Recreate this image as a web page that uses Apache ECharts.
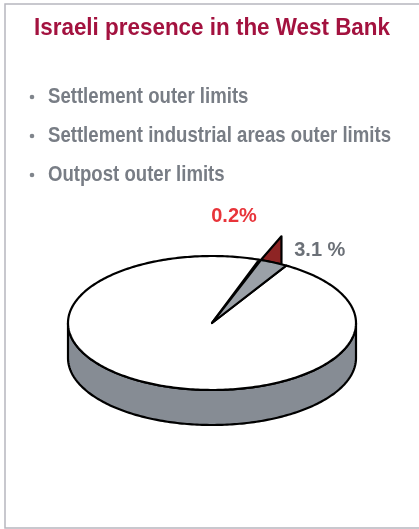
<!DOCTYPE html>
<html>
<head>
<meta charset="utf-8">
<script src="https://cdn.jsdelivr.net/npm/echarts@6/dist/echarts.min.js"></script>
<style>
html,body{margin:0;padding:0;background:#fff;}
#chart{width:419px;height:529px;}
</style>
</head>
<body>
<div id="chart"></div>
<script>
// ---- data ----
var titleText = 'Israeli presence in the West Bank';
var bulletItems = ['Settlement outer limits', 'Settlement industrial areas outer limits', 'Outpost outer limits'];
var sliceNames = ['Settlements', 'Outposts', 'Rest of the West Bank'];
var sliceValues = [3.1, 0.2, 96.7];
var sliceLabels = ['3.1 %', '0.2%', ''];

// ---- style ----
var sliceColors = ['#9ba1a8', '#8e2424', '#ffffff'];
var labelColors = ['#6b7077', '#e8343a', '#000'];
var labelOffsets = [[46, -12], [-26, -43], [0, 0]];
var sideColor = '#868c94';
var startDeg = 59;
var geo = {cx: 212, cy: 323, rx: 144, ry: 67, h: 35};

var FONT = '"Liberation Sans", Arial, sans-serif';
var titleFont = 'bold 24px ' + FONT;
var bulletFont = 'bold 22px ' + FONT;
var titleBox = {x: 34, y: 28, width: 356};
var bulletBox = {x: 48, y0: 97, dy: 39, widthOfLongest: 343, dotX: 32};

function measure(text, font) {
  var c = document.createElement('canvas').getContext('2d');
  c.font = font;
  return c.measureText(text).width;
}

function pt(deg, dy) {
  var a = deg * Math.PI / 180;
  return [geo.cx + geo.rx * Math.cos(a), geo.cy - geo.ry * Math.sin(a) + (dy || 0)];
}
function arc(a0, a1, dy) {
  var pts = [];
  var n = Math.max(2, Math.ceil(Math.abs(a1 - a0)));
  for (var i = 0; i <= n; i++) pts.push(pt(a0 + (a1 - a0) * i / n, dy));
  return pts;
}

var total = sliceValues.reduce(function (s, v) { return s + v; }, 0);
var angles = [];
(function () {
  var a = startDeg;
  for (var i = 0; i < sliceValues.length; i++) {
    var span = sliceValues[i] / total * 360;
    angles.push([a, a + span]);
    a += span;
  }
})();

function renderItem(params, api) {
  var i = params.dataIndex;
  var a0 = angles[i][0], a1 = angles[i][1];
  var children = [];
  var stroke = {stroke: '#000', lineWidth: 2.2, lineJoin: 'round'};
  if (i === 2) {
    var s0 = Math.max(a0, 180), s1 = Math.min(a1, 360);
    if (s1 > s0) {
      var top = arc(s0, s1, 0);
      var bot = arc(s1, s0, geo.h);
      children.push({type: 'polygon', z2: 1, shape: {points: top.concat(bot)},
        style: Object.assign({fill: sideColor}, stroke)});
    }
    children.push({type: 'polygon', z2: 2, shape: {points: [[geo.cx, geo.cy]].concat(arc(a0, a1, 0))},
      style: Object.assign({fill: sliceColors[i]}, stroke)});
  } else if (i === 0) {
    children.push({type: 'polygon', z2: 3, shape: {points: [[geo.cx, geo.cy]].concat(arc(a0, a1, 0))},
      style: Object.assign({fill: sliceColors[i]}, stroke)});
  } else if (i === 1) {
    var A = pt(a0, 0);
    var C = pt(a0 - 9, 0);
    var B = [C[0], C[1] - 28];
    children.push({type: 'polygon', z2: 0, shape: {points: [A, B, C]},
      style: Object.assign({fill: sliceColors[i]}, stroke)});
  }
  if (sliceLabels[i]) {
    var m = pt((a0 + a1) / 2, 0);
    children.push({type: 'text', z2: 5, style: {
      text: sliceLabels[i], x: m[0] + labelOffsets[i][0], y: m[1] + labelOffsets[i][1],
      align: 'center', verticalAlign: 'middle', fill: labelColors[i],
      font: 'bold 20px ' + FONT}});
  }
  return {type: 'group', children: children};
}

var titleScale = titleBox.width / measure(titleText, titleFont);
var longest = bulletItems.reduce(function (m, t) { return Math.max(m, measure(t, bulletFont)); }, 0);
var bulletScale = bulletBox.widthOfLongest / longest;

var graphics = [
  {type: 'rect', shape: {x: 5, y: 4, width: 420, height: 524},
   style: {fill: 'none', stroke: '#b7b7bf', lineWidth: 1.5}, z: -1},
  {type: 'text', x: titleBox.x, y: titleBox.y, scaleX: titleScale, originX: 0,
   style: {text: titleText, fill: '#a3123f', font: titleFont, align: 'left', verticalAlign: 'middle'}}
];
bulletItems.forEach(function (t, k) {
  var y = bulletBox.y0 + k * bulletBox.dy;
  graphics.push({type: 'circle', shape: {cx: bulletBox.dotX, cy: y, r: 2.3},
    style: {fill: '#80858c'}});
  graphics.push({type: 'text', x: bulletBox.x, y: y, scaleX: bulletScale, originX: 0,
    style: {text: t, fill: '#787d85', font: bulletFont, align: 'left', verticalAlign: 'middle'}});
});

var chart = echarts.init(document.getElementById('chart'), null, {renderer: 'canvas'});
chart.setOption({
  backgroundColor: '#fff',
  animation: false,
  graphic: graphics,
  series: [{
    type: 'custom',
    coordinateSystem: 'none',
    renderItem: renderItem,
    data: sliceValues.map(function (v, k) { return {name: sliceNames[k], value: v}; })
  }]
});
</script>
</body>
</html>
